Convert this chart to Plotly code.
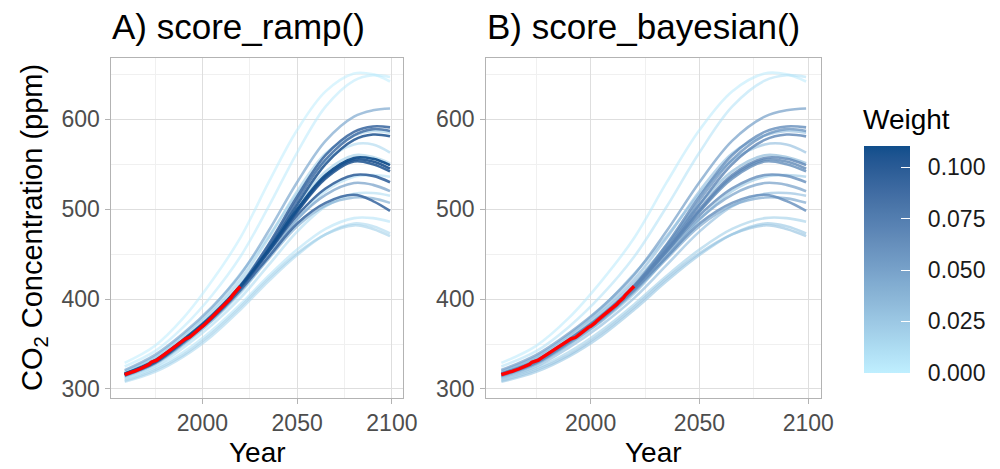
import plotly.graph_objects as go

# ---------------- data ----------------
years = [1959, 1975, 1990, 2005, 2020, 2035, 2050, 2065, 2080, 2090, 2099]

run_L1   = [329, 348, 379, 420, 468, 530, 588, 631, 651, 650, 642]
run_L2   = [325, 342, 369, 404, 447, 503, 563, 614, 643, 649, 647]
run_M612 = [321, 338, 362, 391, 427, 476, 530, 576, 603, 610, 612]
run_L585 = [320, 336, 360, 388, 422, 468, 520, 562, 582, 587, 585]
run_D591 = [317, 332, 355, 382, 415, 461, 514, 560, 586, 592, 591]
run_D587 = [317, 331, 355, 381, 414, 459, 510, 555, 582, 589, 587]
run_D581 = [316, 331, 354, 380, 413, 456, 505, 550, 577, 583, 581]
run_L563 = [319, 336, 360, 390, 428, 470, 517, 554, 572, 572, 563]
run_L551 = [318, 334, 357, 385, 418, 460, 505, 542, 560, 558, 551]
run_D549 = [317, 331, 354, 381, 414, 455, 500, 538, 557, 556, 549]
run_D546 = [316, 331, 354, 380, 414, 454, 498, 536, 555, 553, 545]
run_D543 = [316, 330, 353, 380, 413, 453, 497, 534, 553, 550, 542]
run_L536 = [313, 327, 349, 375, 406, 447, 488, 520, 536, 538, 536]
run_D530 = [316, 330, 353, 379, 412, 453, 493, 523, 538, 537, 530]
run_M520 = [315, 329, 351, 378, 410, 450, 489, 516, 529, 527, 520]
run_L515 = [312, 325, 346, 371, 401, 438, 475, 503, 517, 518, 515]
run_M507 = [314, 328, 350, 376, 408, 445, 481, 504, 513, 512, 507]
run_D498 = [315, 329, 352, 378, 410, 447, 484, 507, 516, 509, 498]
run_LB1  = [311, 323, 341, 365, 394, 426, 455, 478, 490, 490, 486]
run_LB2  = [308, 319, 336, 359, 388, 420, 449, 472, 484, 481, 473]
run_LB3  = [309, 321, 338, 362, 391, 423, 451, 472, 482, 478, 470]

runs = [run_L1, run_L2, run_M612, run_L585, run_D591, run_D587, run_D581,
        run_L563, run_L551, run_D549, run_D546, run_D543, run_L536, run_D530,
        run_M520, run_L515, run_M507, run_D498, run_LB1, run_LB2, run_LB3]

weights_ramp = [0.001, 0.003, 0.045, 0.020, 0.090, 0.085, 0.100,
                0.015, 0.020, 0.110, 0.105, 0.100, 0.010, 0.095,
                0.050, 0.012, 0.040, 0.090, 0.008, 0.015, 0.020]
weights_bayes = [0.004, 0.008, 0.050, 0.030, 0.065, 0.060, 0.070,
                 0.030, 0.035, 0.070, 0.068, 0.066, 0.025, 0.065,
                 0.050, 0.030, 0.045, 0.065, 0.020, 0.025, 0.028]

obs_years = list(range(1959, 2021))
obs_co2 = [315.97, 316.91, 317.64, 318.45, 318.99, 319.62, 320.04, 321.37, 322.18, 323.05,
           324.62, 325.68, 326.32, 327.46, 329.68, 330.19, 331.13, 332.03, 333.84, 335.41,
           336.84, 338.76, 340.12, 341.48, 343.15, 344.87, 346.35, 347.61, 349.31, 351.69,
           353.20, 354.45, 355.70, 356.54, 357.21, 358.96, 360.97, 362.74, 363.88, 366.84,
           368.54, 369.71, 371.32, 373.45, 375.98, 377.70, 379.98, 382.09, 384.02, 385.83,
           387.64, 390.10, 391.85, 394.06, 396.74, 398.81, 401.01, 404.41, 406.76, 408.72,
           411.65, 414.21]

panel_titles = ["A) score_ramp()", "B) score_bayesian()"]
weight_ticks = [0.0, 0.025, 0.05, 0.075, 0.1]
weight_ticktext = ["0.000", "0.025", "0.050", "0.075", "0.100"]
x_ticks = [2000, 2050, 2100]
y_ticks = [300, 400, 500, 600]

# ---------------- colour scale (Lab interpolation like ggplot) ----------------
LOW = "#BFEFFF"   # lightblue1
HIGH = "#104E8B"  # dodgerblue4
WMAX = 0.1105


def _hex2rgb(h):
    h = h.lstrip("#")
    return [int(h[i:i + 2], 16) / 255 for i in (0, 2, 4)]


def _lin(c):
    return c / 12.92 if c <= 0.04045 else ((c + 0.055) / 1.055) ** 2.4


def _delin(c):
    c = max(0.0, min(1.0, c))
    return 12.92 * c if c <= 0.0031308 else 1.055 * c ** (1 / 2.4) - 0.055


WP = (0.95047, 1.0, 1.08883)


def _rgb2lab(rgb):
    r, g, b = [_lin(c) for c in rgb]
    x = 0.4124 * r + 0.3576 * g + 0.1805 * b
    y = 0.2126 * r + 0.7152 * g + 0.0722 * b
    z = 0.0193 * r + 0.1192 * g + 0.9505 * b

    def f(t):
        return t ** (1 / 3) if t > 0.008856 else 7.787 * t + 16 / 116
    fx, fy, fz = f(x / WP[0]), f(y / WP[1]), f(z / WP[2])
    return (116 * fy - 16, 500 * (fx - fy), 200 * (fy - fz))


def _lab2rgb(lab):
    L, a, b = lab
    fy = (L + 16) / 116
    fx = fy + a / 500
    fz = fy - b / 200

    def finv(t):
        return t ** 3 if t ** 3 > 0.008856 else (t - 16 / 116) / 7.787
    x, y, z = finv(fx) * WP[0], finv(fy) * WP[1], finv(fz) * WP[2]
    r = 3.2406 * x - 1.5372 * y - 0.4986 * z
    g = -0.9689 * x + 1.8758 * y + 0.0415 * z
    bb = 0.0557 * x - 0.2040 * y + 1.0570 * z
    return [_delin(c) for c in (r, g, bb)]


LAB_LOW = _rgb2lab(_hex2rgb(LOW))
LAB_HIGH = _rgb2lab(_hex2rgb(HIGH))


def colour_at(t, alpha=1.0):
    t = max(0.0, min(1.0, t))
    lab = [lo + (hi - lo) * t for lo, hi in zip(LAB_LOW, LAB_HIGH)]
    r, g, b = _lab2rgb(lab)
    if alpha < 1:
        return "rgba(%d,%d,%d,%.2f)" % (round(r * 255), round(g * 255), round(b * 255), alpha)
    return "rgb(%d,%d,%d)" % (round(r * 255), round(g * 255), round(b * 255))


colorscale = [[i / 20, colour_at(i / 20)] for i in range(21)]

# ---------------- figure ----------------
FONT = "Liberation Sans, Arial, sans-serif"
fig = go.Figure()

domains = [[0.113, 0.409], [0.493, 0.833]]
for p, wts in enumerate([weights_ramp, weights_bayes]):
    xa = "x" if p == 0 else "x2"
    ya = "y" if p == 0 else "y2"
    order = sorted(range(len(runs)), key=lambda i: wts[i])
    for i in order:
        t = wts[i] / WMAX
        fig.add_trace(go.Scatter(
            x=years, y=runs[i], mode="lines",
            line=dict(color=colour_at(t, 0.55 + 0.4 * t), width=2.6, shape="spline", smoothing=1.0),
            xaxis=xa, yaxis=ya, showlegend=False, hoverinfo="skip"))
    fig.add_trace(go.Scatter(
        x=obs_years, y=obs_co2, mode="lines",
        line=dict(color="#FF0000", width=3.4),
        xaxis=xa, yaxis=ya, showlegend=False, hoverinfo="skip"))

# colour bar carrier
NBSP = "\u00a0"
fig.add_trace(go.Scatter(
    x=[2000], y=[0], mode="markers", xaxis="x2", yaxis="y2",
    marker=dict(size=0.1, opacity=0, color=[0], cmin=0, cmax=WMAX,
                colorscale=colorscale, showscale=True,
                colorbar=dict(
                    x=0.876, xanchor="left", xpad=0, ypad=0,
                    y=1 - 376 / 469, yanchor="bottom",
                    len=(376 - 147) / 469, lenmode="fraction", thickness=46,
                    outlinewidth=0, ticks="inside", ticklen=9, tickcolor="white",
                    tickwidth=1, tickvals=weight_ticks,
                    ticktext=[NBSP * 2 + s for s in weight_ticktext],
                    tickfont=dict(family=FONT, size=23, color="#1A1A1A"))),
    showlegend=False, hoverinfo="skip"))

axis_common = dict(showline=True, mirror=True, linecolor="#B3B3B3", linewidth=1,
                   ticks="outside", ticklen=5, tickcolor="#B3B3B3", tickwidth=1,
                   showgrid=True, gridcolor="#DEDEDE", gridwidth=1, zeroline=False,
                   tickfont=dict(family=FONT, size=23, color="#4D4D4D"))

xr = [1952, 2106]
yr = [290.4, 668.7]
ydom = [1 - 401 / 469, 1 - 58 / 469]
xminor = dict(tick0=1975, dtick=50, showgrid=True, gridcolor="#F0F0F0", gridwidth=1, ticks="")
yminor = dict(tick0=350, dtick=100, showgrid=True, gridcolor="#F0F0F0", gridwidth=1, ticks="")
fig.update_layout(
    width=1000, height=469, margin=dict(l=0, r=0, t=0, b=0),
    paper_bgcolor="white", plot_bgcolor="white",
    xaxis=dict(domain=domains[0], range=xr, tickvals=x_ticks, anchor="y",
               minor=xminor, ticklabelstandoff=0, **axis_common),
    yaxis=dict(domain=ydom, range=yr, tickvals=y_ticks, anchor="x",
               minor=yminor, ticklabelstandoff=1, **axis_common),
    xaxis2=dict(domain=domains[1], range=xr, tickvals=x_ticks, anchor="y2",
                minor=xminor, ticklabelstandoff=0, **axis_common),
    yaxis2=dict(domain=ydom, range=yr, tickvals=y_ticks, anchor="x2",
                minor=yminor, ticklabelstandoff=1, **axis_common),
)

annotations = []
for p, title in enumerate(panel_titles):
    annotations.append(dict(text=title, xref="paper", yref="paper",
                            x=domains[p][0] - 0.001, y=1 - 5 / 469, xanchor="left", yanchor="top",
                            showarrow=False, font=dict(family=FONT, size=35, color="#000000")))
    annotations.append(dict(text="Year", xref="paper", yref="paper",
                            x=(domains[p][0] + domains[p][1]) / 2, y=1 - 474 / 469,
                            xanchor="center", yanchor="bottom",
                            showarrow=False, font=dict(family=FONT, size=28, color="#000000")))
annotations.append(dict(text="CO<sub>2</sub> Concentration (ppm)", xref="paper", yref="paper",
                        x=34 / 1000, y=(ydom[0] + ydom[1]) / 2, textangle=-90,
                        xanchor="center", yanchor="middle", showarrow=False,
                        font=dict(family=FONT, size=29, color="#000000")))
annotations.append(dict(text="Weight", xref="paper", yref="paper",
                        x=0.873, y=1 - 121 / 469, xanchor="left", yanchor="middle",
                        showarrow=False, font=dict(family=FONT, size=28, color="#000000")))
fig.update_layout(annotations=annotations)

fig.write_html("out.html")
